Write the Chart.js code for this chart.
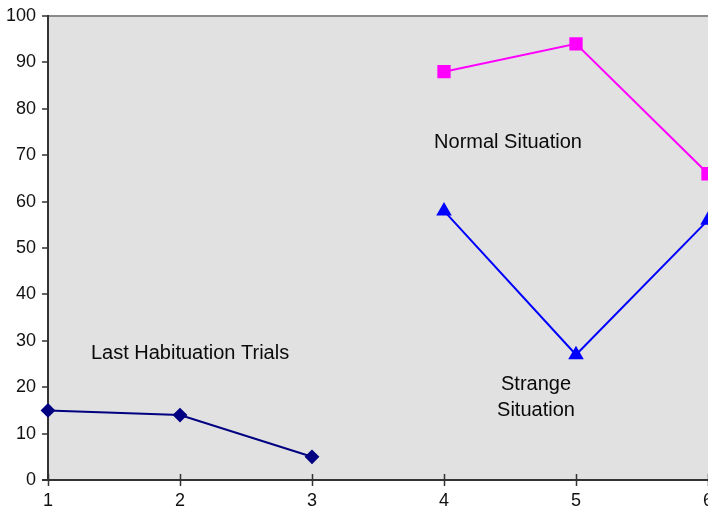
<!DOCTYPE html>
<html>
<head>
<meta charset="utf-8">
<script src="https://cdn.jsdelivr.net/npm/chart.js@4/dist/chart.umd.min.js"></script>
<style>
  html, body { margin: 0; padding: 0; background: #ffffff; overflow: hidden; }
  #wrap { width: 708px; height: 509px; }
</style>
</head>
<body>
<div id="wrap"><canvas id="c" width="708" height="509"></canvas></div>
<script>
// Trial numbers and looking-time values per condition
const trials = [1, 2, 3, 4, 5, 6];
const habituationTrials = [1, 2, 3];
const habituationValues = [15, 14, 5];
const testTrials = [4, 5, 6];
const normalValues = [88, 94, 66];
const strangeValues = [58, 27, 56];
const yTicks = [0, 10, 20, 30, 40, 50, 60, 70, 80, 90, 100];

// Text labels placed in data coordinates
const notes = [
  { x: 2.076, y: 27.2, lines: ['Last Habituation Trials'] },
  { x: 4.485, y: 72.7, lines: ['Normal Situation'] },
  { x: 4.697, y: 20.6, lines: ['Strange', 'Situation'] }
];

const FONT = '"Liberation Sans", Arial, sans-serif';

const plotDecor = {
  id: 'plotDecor',
  beforeDraw(chart) {
    const { ctx, chartArea: a } = chart;
    ctx.save();
    ctx.fillStyle = '#e1e1e1';
    ctx.fillRect(a.left, a.top, a.right - a.left, a.bottom - a.top);
    ctx.strokeStyle = '#8a8a8a';
    ctx.lineWidth = 2;
    ctx.beginPath();
    ctx.moveTo(a.left, a.top);
    ctx.lineTo(a.right, a.top);
    ctx.stroke();
    // axis lines
    ctx.strokeStyle = '#333333';
    ctx.lineWidth = 2;
    ctx.beginPath();
    ctx.moveTo(a.left, a.top - 1);
    ctx.lineTo(a.left, a.bottom);
    ctx.moveTo(a.left - 6, a.bottom);
    ctx.lineTo(a.right, a.bottom);
    ctx.stroke();
    // tick marks
    ctx.lineWidth = 1.5;
    ctx.beginPath();
    yTicks.forEach(v => {
      const y = Math.round(chart.scales.y.getPixelForValue(v));
      ctx.moveTo(a.left - 6, y);
      ctx.lineTo(a.left, y);
    });
    trials.forEach(v => {
      const x = Math.round(chart.scales.x.getPixelForValue(v)) + 0.5;
      ctx.moveTo(x, a.bottom - 6);
      ctx.lineTo(x, a.bottom + 6);
    });
    ctx.stroke();
    ctx.restore();
  },
  afterDatasetsDraw(chart) {
    const { ctx, scales } = chart;
    ctx.save();
    // text notes
    ctx.fillStyle = '#0a0a0a';
    ctx.font = '20px ' + FONT;
    ctx.textAlign = 'center';
    ctx.textBaseline = 'middle';
    notes.forEach(n => {
      const cx = scales.x.getPixelForValue(n.x);
      const cy = scales.y.getPixelForValue(n.y);
      n.lines.forEach((t, i) => ctx.fillText(t, cx, cy + i * 26));
    });
    ctx.restore();
  }
};

new Chart(document.getElementById('c'), {
  type: 'line',
  data: {
    datasets: [
      {
        label: 'Last Habituation Trials',
        data: habituationTrials.map((t, i) => ({ x: t, y: habituationValues[i] })),
        borderColor: '#000080',
        backgroundColor: '#000080',
        borderWidth: 2,
        pointStyle: 'rectRot',
        pointRadius: 6,
        pointHoverRadius: 6,
        tension: 0,
        clip: false
      },
      {
        label: 'Normal Situation',
        data: testTrials.map((t, i) => ({ x: t, y: normalValues[i] })),
        borderColor: '#ff00ff',
        backgroundColor: '#ff00ff',
        borderWidth: 2,
        pointStyle: 'rect',
        pointRadius: 8,
        pointHoverRadius: 8,
        tension: 0,
        clip: false
      },
      {
        label: 'Strange Situation',
        data: testTrials.map((t, i) => ({ x: t, y: strangeValues[i] })),
        borderColor: '#0000ff',
        backgroundColor: '#0000ff',
        borderWidth: 2,
        pointStyle: 'triangle',
        pointRadius: 7,
        pointHoverRadius: 7,
        tension: 0,
        clip: false
      }
    ]
  },
  options: {
    responsive: false,
    animation: false,
    events: [],
    layout: { autoPadding: false, padding: { top: 16, right: 0, left: 0, bottom: 0 } },
    plugins: { legend: { display: false }, tooltip: { enabled: false } },
    scales: {
      x: {
        type: 'linear',
        min: 1,
        max: 6,
        afterFit(s) { s.height = 29; s.paddingLeft = 0; s.paddingRight = 0; },
        afterBuildTicks(s) { s.ticks = trials.map(v => ({ value: v })); },
        border: { display: false },
        grid: { display: false },
        ticks: {
          color: '#111111',
          font: { family: FONT, size: 18 },
          padding: 2,
          maxRotation: 0,
          autoSkip: false
        }
      },
      y: {
        min: 0,
        max: 100,
        afterFit(s) { s.width = 48; s.paddingTop = 0; s.paddingBottom = 0; },
        afterBuildTicks(s) { s.ticks = yTicks.map(v => ({ value: v })); },
        border: { display: false },
        grid: { display: false },
        ticks: {
          color: '#111111',
          font: { family: FONT, size: 18 },
          padding: 4
        }
      }
    }
  },
  plugins: [plotDecor]
});
</script>
</body>
</html>
